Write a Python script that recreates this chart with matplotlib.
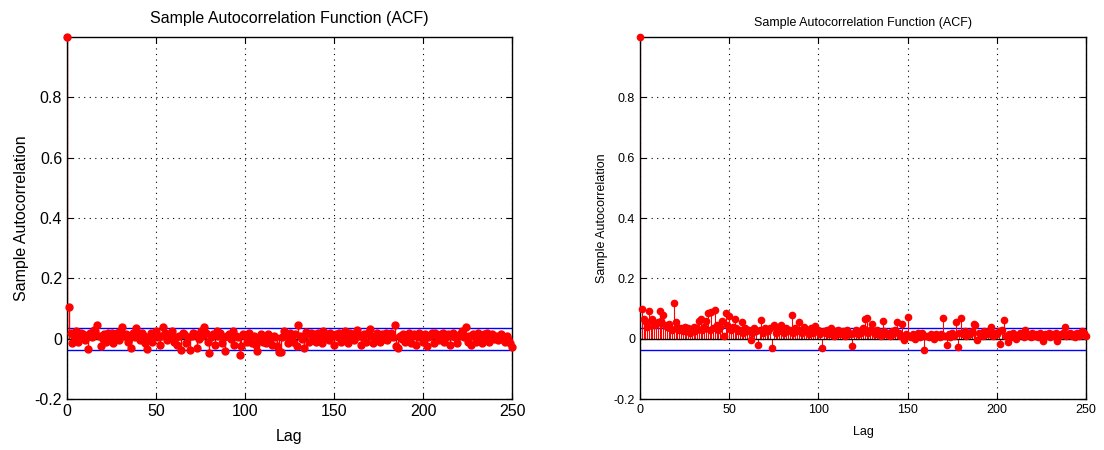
import numpy as np
import matplotlib.pyplot as plt

plt.rcParams['font.family'] = ['Liberation Sans', 'DejaVu Sans']

# sample ACF of the first series, lags 1..250 (lag 0 is 1)
acf_a = [0.105, 0.02, -0.013, 0.01, 0.025, -0.01, 0.005, 0.02, 0.015, -0.005,
         0.01, -0.033, 0.02, 0.005, 0.03, 0.025, 0.044, 0.01, -0.024, 0.0,
         0.015, -0.01, 0.02, 0.005, 0.018, -0.015, 0.01, 0.02, -0.005, 0.025,
         0.038, 0.01, 0.015, -0.01, 0.0, -0.03, 0.02, 0.005, 0.034, 0.015,
         -0.005, 0.02, 0.01, -0.015, -0.035, 0.005, 0.02, -0.01, 0.015, 0.025,
         0.005, -0.02, 0.01, 0.04, 0.02, -0.005, 0.015, 0.01, 0.025, -0.01,
         0.005, -0.02, 0.01, -0.036, 0.02, 0.015, -0.015, 0.005, -0.036, 0.01,
         0.02, 0.015, -0.03, 0.0, 0.025, 0.01, 0.04, 0.02, -0.01, -0.046,
         0.005, 0.015, -0.02, 0.025, 0.01, 0.02, -0.015, 0.005, -0.04, 0.01,
         0.015, 0.0, 0.024, -0.02, 0.01, 0.005, -0.055, -0.025, 0.015, 0.01,
         -0.01, 0.02, 0.005, -0.015, 0.01, -0.02, -0.04, 0.0, 0.015, -0.01,
         0.005, -0.015, 0.017, 0.0, -0.02, 0.01, 0.005, -0.025, -0.043, -0.043,
         0.005, 0.024, 0.01, -0.015, 0.02, 0.005, -0.01, 0.015, -0.025, 0.047,
         0.01, 0.0, -0.03, 0.022, 0.015, -0.01, 0.02, 0.005, 0.015, -0.01,
         0.02, 0.01, -0.015, 0.025, 0.005, 0.015, -0.005, 0.02, 0.01, -0.02,
         0.015, 0.005, 0.02, -0.01, 0.01, 0.025, 0.0, -0.015, 0.02, 0.01,
         -0.005, 0.015, 0.028, 0.01, -0.02, 0.005, 0.015, -0.01, 0.02, 0.031,
         0.01, -0.015, 0.005, 0.02, 0.01, -0.01, 0.015, 0.0, 0.02, -0.005,
         0.01, 0.02, 0.005, 0.045, -0.025, -0.03, 0.01, 0.0, 0.015, -0.01,
         0.005, 0.02, -0.015, 0.01, 0.015, -0.02, 0.005, 0.02, 0.01, -0.01,
         0.015, -0.025, 0.005, 0.01, 0.02, -0.015, 0.02, 0.01, -0.005, 0.015,
         0.02, -0.01, 0.005, 0.015, -0.02, 0.01, 0.02, 0.005, -0.015, 0.01,
         0.015, 0.025, 0.005, 0.04, -0.01, 0.01, -0.02, 0.015, 0.005, -0.01,
         0.02, 0.01, -0.015, 0.015, 0.005, 0.02, -0.01, 0.01, 0.015, 0.0,
         0.01, -0.005, 0.0, 0.015, 0.005, -0.01, 0.01, 0.0, -0.015, -0.028]

# sample ACF of the second series, lags 1..250
acf_b = [0.099, 0.065, 0.058, 0.04, 0.091, 0.06, 0.066, 0.045, 0.05, 0.055,
         0.091, 0.06, 0.08, 0.045, 0.04, 0.05, 0.035, 0.03, 0.117, 0.055,
         0.04, 0.03, 0.035, 0.025, 0.04, 0.03, 0.035, 0.02, 0.03, 0.04,
         0.025, 0.035, 0.058, 0.066, 0.03, 0.04, 0.058, 0.084, 0.03, 0.088,
         0.035, 0.095, 0.045, 0.03, 0.04, 0.06, 0.009, 0.084, 0.045, 0.075,
         0.03, 0.04, 0.066, 0.035, 0.025, 0.03, 0.055, 0.02, 0.035, 0.025,
         0.03, -0.003, 0.02, 0.035, 0.025, -0.02, 0.03, 0.061, 0.02, 0.035,
         0.03, 0.025, 0.035, -0.03, 0.045, 0.02, 0.03, 0.025, 0.045, 0.03,
         0.02, 0.035, 0.025, 0.03, 0.078, 0.02, 0.035, 0.025, 0.054, 0.03,
         0.02, 0.04, 0.025, 0.03, 0.015, 0.035, 0.02, 0.042, 0.025, 0.03,
         0.015, -0.03, 0.025, 0.02, 0.03, 0.015, 0.037, 0.02, 0.01, 0.025,
         0.03, 0.015, 0.02, 0.025, 0.01, 0.03, 0.02, 0.015, -0.025, 0.02,
         0.03, 0.015, 0.025, 0.02, 0.035, 0.065, 0.067, 0.02, 0.03, 0.049,
         0.025, 0.015, 0.03, 0.02, 0.01, 0.06, 0.025, 0.015, 0.02, 0.01,
         0.025, 0.015, 0.03, 0.055, 0.02, 0.01, 0.05, -0.003, 0.015, 0.072,
         0.01, 0.005, 0.015, 0.0, 0.01, 0.02, 0.005, 0.02, -0.038, 0.01,
         0.01, 0.005, 0.015, 0.01, 0.0, 0.015, 0.01, 0.005, 0.015, 0.067,
         0.01, -0.02, 0.015, 0.005, 0.02, 0.01, 0.055, -0.027, 0.02, 0.07,
         0.015, 0.025, 0.01, 0.02, 0.015, 0.025, 0.049, 0.047, -0.005, 0.02,
         0.015, 0.01, 0.025, 0.02, 0.015, 0.03, 0.04, 0.01, 0.02, 0.015,
         0.025, -0.016, 0.03, 0.061, 0.01, -0.01, 0.015, 0.005, 0.02, 0.01,
         0.0, 0.01, 0.02, 0.015, 0.005, 0.03, 0.015, 0.01, 0.005, 0.02,
         0.01, 0.015, 0.005, 0.02, 0.01, -0.007, 0.015, 0.01, 0.02, 0.005,
         0.015, 0.01, 0.02, -0.007, 0.01, 0.015, 0.02, 0.04, 0.01, 0.015,
         0.02, 0.01, 0.015, 0.005, 0.02, 0.01, 0.015, 0.025, 0.02, 0.01]

# approximate 95% confidence bounds
bound_a = 0.036
bound_b = 0.037

xticks = [0, 50, 100, 150, 200, 250]
yticks = [-0.2, 0, 0.2, 0.4, 0.6, 0.8]


def acf_panel(ax, vals, bound, fs, ms, lw, xpad, tpad):
    y = np.concatenate([[1.0], vals])
    lags = np.arange(len(y))
    ax.vlines(lags, 0, y, color='red', lw=lw, zorder=2)
    ax.plot(lags, y, 'o', color='red', ms=ms, mec='red', zorder=3, clip_on=False)
    ax.axhline(0, color='black', lw=1, zorder=2.5)
    ax.axhline(bound, color='blue', lw=1, zorder=1.5)
    ax.axhline(-bound, color='blue', lw=1, zorder=1.5)
    ax.set_xlim(0, 250)
    ax.set_ylim(-0.2, 1.0)
    ax.set_xticks(xticks)
    ax.set_yticks(yticks)
    ax.set_yticklabels(['%g' % t for t in yticks])
    ax.grid(True, color='black', linestyle=(0, (1, 4)), lw=0.8)
    ax.tick_params(direction='in', labelsize=fs, top=True, right=True, length=4)
    ax.set_title('Sample Autocorrelation Function (ACF)', fontsize=fs, pad=tpad)
    ax.set_xlabel('Lag', fontsize=fs, labelpad=xpad)
    ax.set_ylabel('Sample Autocorrelation', fontsize=fs)
    for s in ax.spines.values():
        s.set_linewidth(1)


fig = plt.figure(figsize=(11.04, 4.5), dpi=100)
ax1 = fig.add_axes([0.0607, 0.1133, 0.4031, 0.8044])
ax2 = fig.add_axes([0.5797, 0.1133, 0.4040, 0.8044])

acf_panel(ax1, acf_a, bound_a, 11.5, 5, 1.0, 7, 10)
acf_panel(ax2, acf_b, bound_b, 9, 4.5, 0.8, 7, 8)

fig.savefig('out.png', dpi=100)
